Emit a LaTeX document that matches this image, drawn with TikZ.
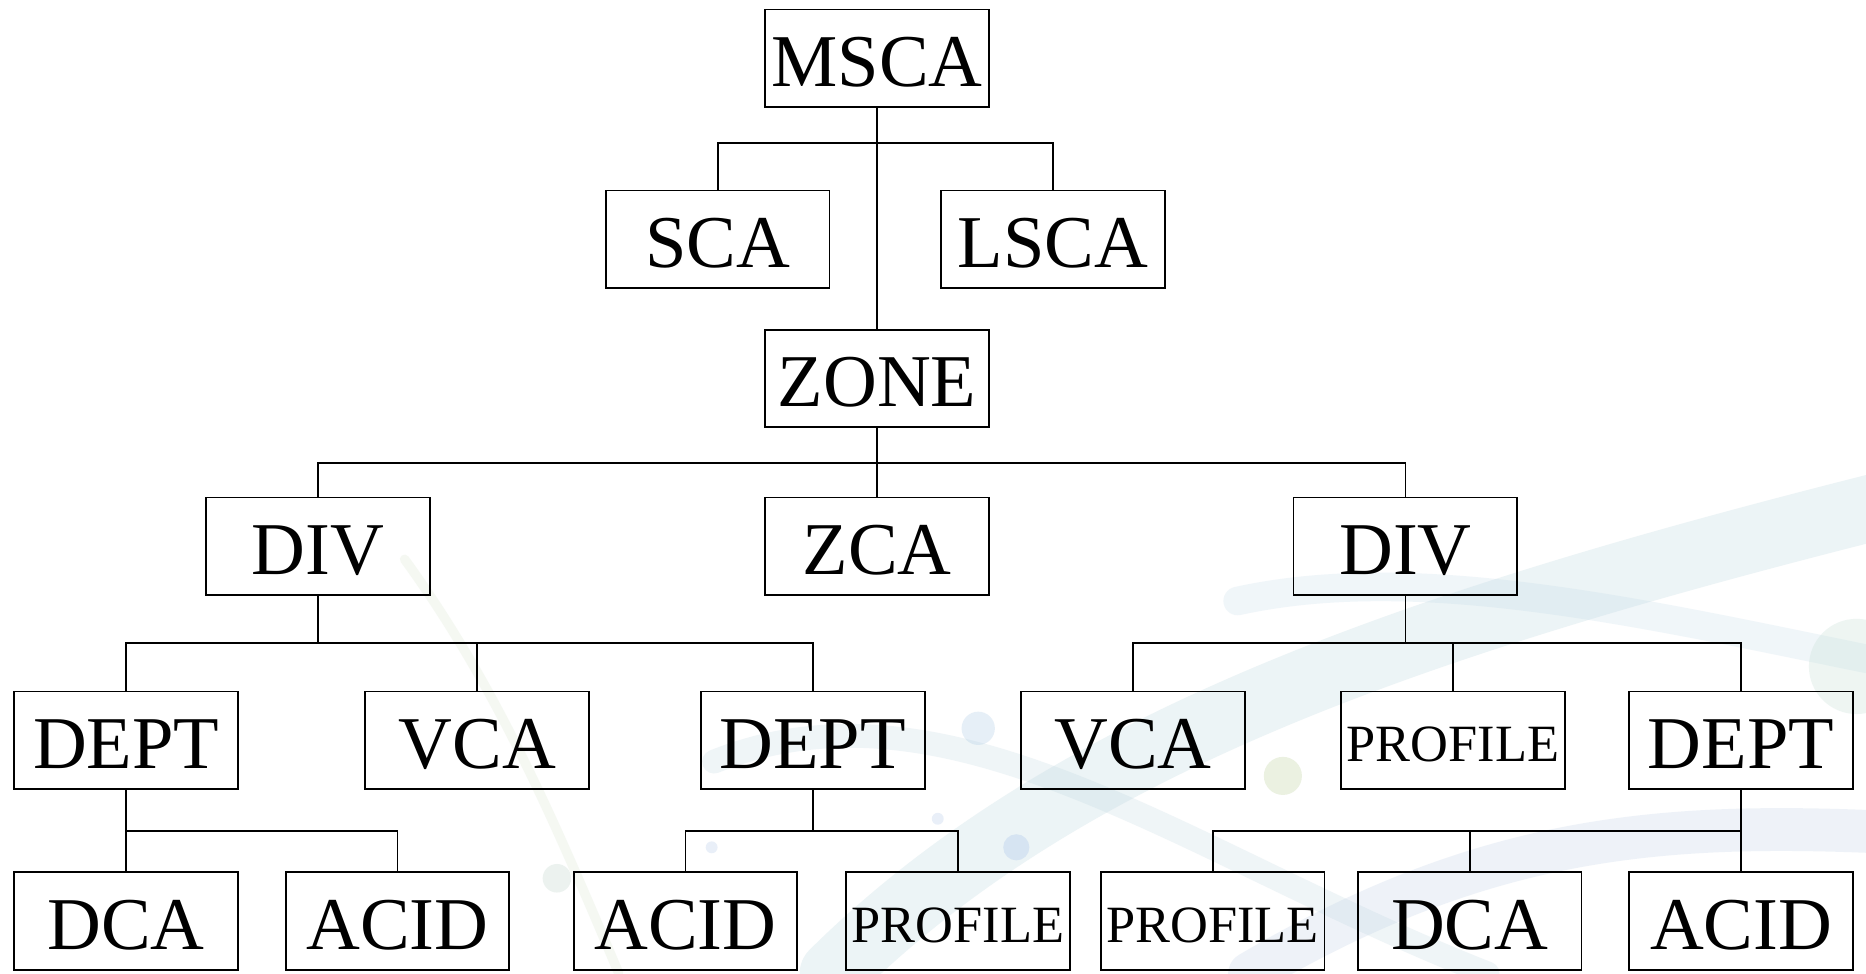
\documentclass[tikz,border=0pt]{standalone}
\usepackage{fontspec}
\setmainfont{Liberation Serif}
\begin{document}
\begin{tikzpicture}[x=0.5pt,y=-0.5pt,
  box/.style={draw=black,line width=0.75pt,minimum width=94pt,minimum height=41pt,inner sep=0pt,
    text depth=0pt,text height=23.9pt,font=\fontsize{31.3}{34}\selectfont},
  smallbox/.style={box,text height=17.6pt,font=\fontsize{22}{25}\selectfont},
  conn/.style={draw=black,line width=0.75pt},
  swoosh/.style={line cap=round,opacity=0.22}]
\useasboundingbox (0,0) rectangle (1568,818);
\fill[white] (0,0) rectangle (1568,818);
% faint background decoration
\begin{scope}
\clip (0,0) rectangle (1568,818);
\draw[swoosh,color={rgb,255:red,170;green,205;blue,215},line width=28pt]
  (700,818) .. controls (900,620) and (1200,520) .. (1600,420);
\draw[swoosh,color={rgb,255:red,190;green,215;blue,230},line width=12pt]
  (1040,505) .. controls (1200,470) and (1400,520) .. (1600,560);
\draw[swoosh,color={rgb,255:red,185;green,210;blue,220},line width=10pt]
  (600,640) .. controls (800,560) and (1000,720) .. (1250,818);
\draw[swoosh,color={rgb,255:red,210;green,225;blue,200},line width=4pt]
  (340,470) .. controls (420,580) and (470,700) .. (520,818);
\draw[swoosh,color={rgb,255:red,180;green,200;blue,225},line width=18pt]
  (1050,818) .. controls (1250,700) and (1400,690) .. (1600,700);
\fill[color={rgb,255:red,175;green,205;blue,230},opacity=0.3] (822,612) circle (14);
\fill[color={rgb,255:red,205;green,220;blue,180},opacity=0.4] (1078,652) circle (16);
\fill[color={rgb,255:red,175;green,200;blue,235},opacity=0.35] (854,712) circle (11);
\fill[color={rgb,255:red,185;green,205;blue,235},opacity=0.3] (788,688) circle (5);
\fill[color={rgb,255:red,195;green,215;blue,205},opacity=0.3] (468,738) circle (12);
\fill[color={rgb,255:red,185;green,205;blue,235},opacity=0.3] (598,712) circle (5);
\fill[color={rgb,255:red,200;green,225;blue,215},opacity=0.3] (1560,560) circle (40);
\end{scope}
% nodes
\node[box] (msca) at (737,49) {MSCA};
\node[box] (sca) at (603,201) {SCA};
\node[box] (lsca) at (885,201) {LSCA};
\node[box] (zone) at (737,318) {ZONE};
\node[box] (div1) at (267,459) {DIV};
\node[box] (zca) at (737,459) {ZCA};
\node[box] (div2) at (1181,459) {DIV};
\node[box] (dept1) at (106,622) {DEPT};
\node[box] (vca1) at (401,622) {VCA};
\node[box] (dept2) at (683,622) {DEPT};
\node[box] (vca2) at (952,622) {VCA};
\node[smallbox] (prof1) at (1221,622) {PROFILE};
\node[box] (dept3) at (1463,622) {DEPT};
\node[box] (dca1) at (106,774) {DCA};
\node[box] (acid1) at (334,774) {ACID};
\node[box] (acid2) at (576,774) {ACID};
\node[smallbox] (prof2) at (805,774) {PROFILE};
\node[smallbox] (prof3) at (1019,774) {PROFILE};
\node[box] (dca2) at (1235,774) {DCA};
\node[box] (acid3) at (1463,774) {ACID};
% bracket coordinates
\coordinate (b1) at (737,120);
\coordinate (b2) at (737,389);
\coordinate (b3) at (267,540);
\coordinate (b4) at (1181,540);
\coordinate (b5) at (106,698);
\coordinate (b6) at (683,698);
\coordinate (b7) at (1463,698);
% connectors
\draw[conn] (msca.south) -- (zone.north);
\draw[conn] (sca.north) |- (b1) -| (lsca.north);
\draw[conn] (zone.south) -- (zca.north);
\draw[conn] (div1.north) |- (b2) -| (div2.north);
\draw[conn] (div1.south) -- (b3);
\draw[conn] (dept1.north) |- (b3) -| (dept2.north);
\draw[conn] (vca1.north) -- (vca1.north |- b3);
\draw[conn] (div2.south) -- (b4);
\draw[conn] (vca2.north) |- (b4) -| (dept3.north);
\draw[conn] (prof1.north) -- (prof1.north |- b4);
\draw[conn] (dept1.south) -- (dca1.north);
\draw[conn] (b5) -| (acid1.north);
\draw[conn] (dept2.south) -- (b6);
\draw[conn] (acid2.north) |- (b6) -| (prof2.north);
\draw[conn] (dept3.south) -- (acid3.north);
\draw[conn] (prof3.north) |- (b7);
\draw[conn] (dca2.north) -- (dca2.north |- b7);
\end{tikzpicture}
\end{document}
